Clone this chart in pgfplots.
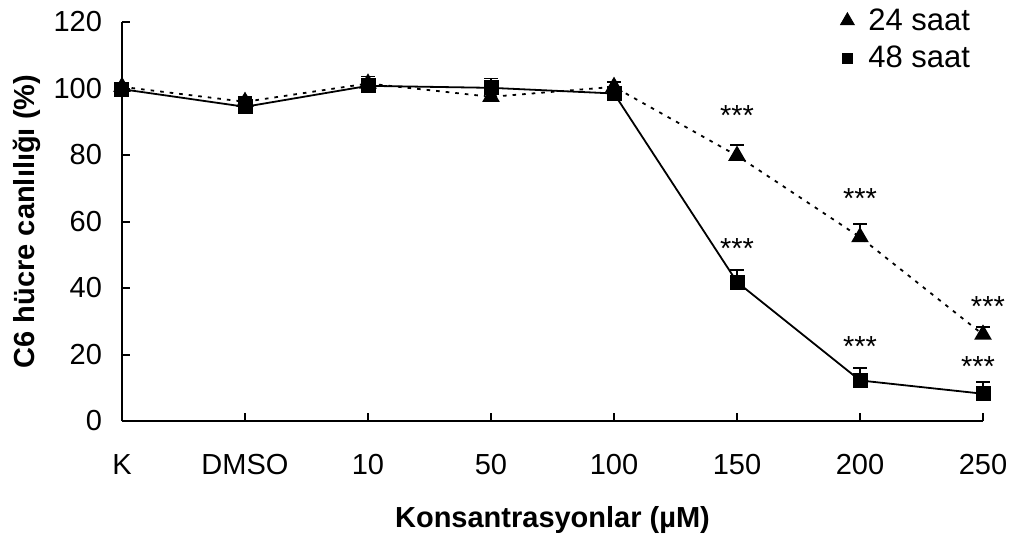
\documentclass[border=0pt]{standalone}
\usepackage{fontspec}
\setmainfont{Liberation Sans}
\usepackage{pgfplots}
\pgfplotsset{compat=1.18}

\begin{document}
\begin{tikzpicture}
\begin{axis}[
    scale only axis,
    width=430.5pt, height=199.5pt,
    xmin=0, xmax=7, ymin=0, ymax=120,
    axis x line=bottom, axis y line=left,
    axis line style={-, line width=1pt},
    xtick={0,...,7},
    xticklabels={K,DMSO,10,50,100,150,200,250},
    ytick={0,20,...,120},
    tick align=inside,
    major tick length=4pt,
    tick style={line width=1pt, black},
    /pgf/number format/assume math mode=true,
    tick label style={font=\fontsize{14.5}{17}\selectfont},
    xticklabel style={yshift=-13pt},
    yticklabel style={xshift=-6.5pt},
    xlabel={Konsantrasyonlar (µM)},
    ylabel={C6 hücre canlılığı (\%)},
    label style={font=\fontsize{14.5}{17}\selectfont\bfseries},
    xlabel style={at={(axis description cs:0.5,-0.247)}, anchor=center},
    ylabel style={at={(axis description cs:-0.110,0.5)}, anchor=center},
    clip=false,
    legend style={at={(rel axis cs:0.997,1.055)}, anchor=north east,
        draw=none, fill=none, font=\fontsize{15.5}{18}\selectfont,
        row sep=2.5pt,
        /tikz/every odd column/.append style={column sep=5pt}},
    legend cell align=left,
    error bars/error bar style={line width=0.9pt},
    error bars/error mark options={rotate=90, mark size=3.5pt, line width=0.9pt},
]

% 24 saat (dotted, triangles)
\addplot[black, line width=0.9pt, dash pattern=on 1.8pt off 3pt,
    mark=triangle*, mark size=4.2pt, mark options={solid}, forget plot,
    error bars/.cd, y dir=plus, y explicit]
coordinates {
(0,100.5) +- (0,1.2)
(1,96.0) +- (0,1.5)
(2,101.5) +- (0,1.5)
(3,97.5) +- (0,1.0)
(4,100.5) +- (0,1.5)
(5,79.8) +- (0,3.2)
(6,55.3) +- (0,4.0)
(7,26.0) +- (0,2.2)
};

% 48 saat (solid, squares)
\addplot[black, line width=0.9pt, solid,
    mark=square*, mark size=3.3pt, forget plot,
    error bars/.cd, y dir=plus, y explicit]
coordinates {
(0,99.8) +- (0,1.5)
(1,94.5) +- (0,2.5)
(2,100.8) +- (0,2.8)
(3,100.2) +- (0,2.8)
(4,98.5) +- (0,1.5)
(5,41.8) +- (0,3.6)
(6,12.2) +- (0,3.8)
(7,8.2) +- (0,3.6)
};

\addlegendimage{only marks, mark=triangle*, mark size=4pt, black}
\addlegendentry{24 saat}
\addlegendimage{only marks, mark=square*, mark size=2.6pt, black}
\addlegendentry{48 saat}

\begin{scope}[every node/.style={font=\fontsize{14.5}{17}\selectfont, anchor=base, inner sep=0pt}]
\node at (axis cs:5,88.8) {***};
\node at (axis cs:6,63.8) {***};
\node at (axis cs:7.04,31.3) {***};
\node at (axis cs:5,48.8) {***};
\node at (axis cs:6,19.3) {***};
\node at (axis cs:6.96,13.5) {***};
\end{scope}
\end{axis}
\pgfresetboundingbox
\path ([shift={(-61pt,-57.5pt)}]current axis.south west) rectangle ([shift={(15.5pt,11pt)}]current axis.north east);
\end{tikzpicture}
\end{document}
